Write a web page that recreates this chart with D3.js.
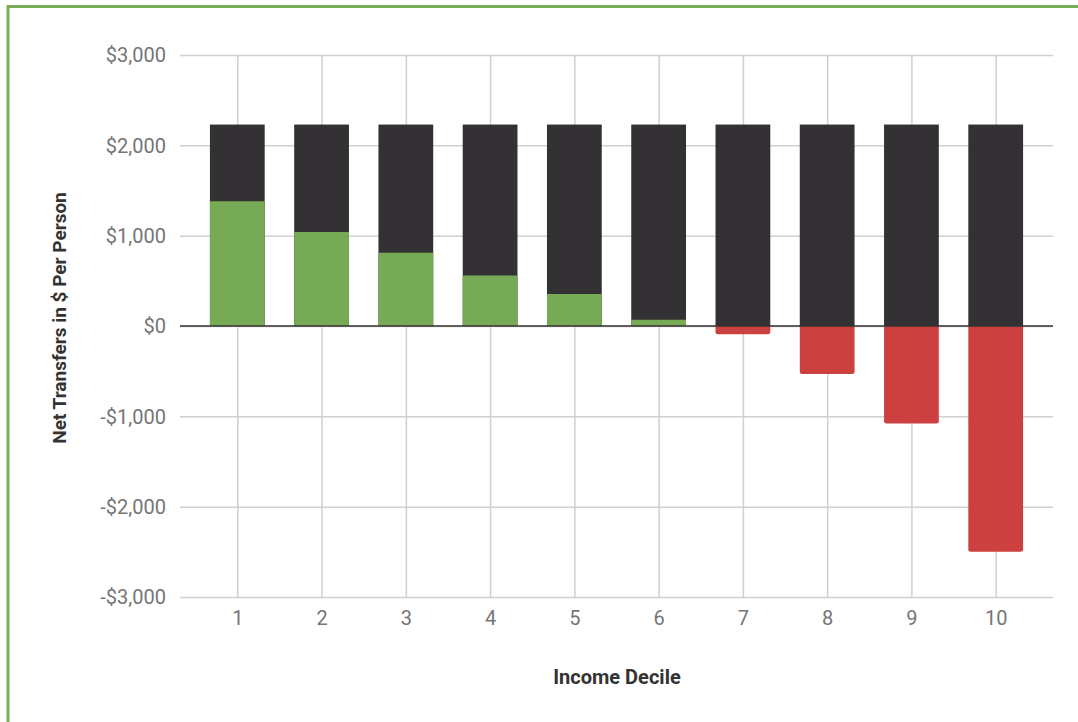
<!DOCTYPE html>
<html>
<head>
<meta charset="utf-8">
<script src="https://cdn.jsdelivr.net/npm/d3@7"></script>
<style>
  html, body { margin: 0; padding: 0; background: #fff; }
  svg { display: block; }
  text { font-family: Roboto, "Noto Sans", sans-serif; }
</style>
</head>
<body>
<svg id="chart" width="1078" height="722"></svg>
<script>
// Income deciles and per-person values
const deciles = ["1", "2", "3", "4", "5", "6", "7", "8", "9", "10"];
const grossTransfer = [2230, 2230, 2230, 2230, 2230, 2230, 2230, 2230, 2230, 2230];
const netTransfer = [1380, 1040, 810, 560, 355, 70, -90, -530, -1080, -2500];
const yTicks = [-3000, -2000, -1000, 0, 1000, 2000, 3000];

const colors = { gross: "#333134", gain: "#77aa55", loss: "#cc4040", grid: "#d0d0d0", zero: "#333", tick: "#757575", title: "#333" };

const svg = d3.select("#chart");
const W = 1078, H = 722;
const m = { left: 180, right: 25, top: 55, bottom: 125 };

// outer frame
svg.append("rect")
  .attr("x", 8).attr("y", 6.5)
  .attr("width", W + 20).attr("height", H + 20)
  .attr("fill", "none").attr("stroke", "#7aad5a").attr("stroke-width", 3);

const x = d3.scalePoint().domain(deciles)
  .range([m.left, W - m.right]).padding(0.68);
const y = d3.scaleLinear().domain([-3000, 3000])
  .range([H - m.bottom, m.top]);
const barW = x.step() * 0.65;

const g = svg.append("g");

// horizontal grid + y labels
const yAxis = d3.axisLeft(y).tickValues(yTicks)
  .tickSize(-(W - m.right - m.left))
  .tickFormat(d => (d < 0 ? "-$" : "$") + d3.format(",")(Math.abs(d)));
const ya = g.append("g").attr("transform", `translate(${m.left},0)`).call(yAxis);
ya.select(".domain").remove();
ya.selectAll(".tick line").attr("stroke", colors.grid).attr("stroke-width", 1.5);
ya.selectAll(".tick text").attr("x", -14).attr("fill", colors.tick)
  .attr("font-size", 20).attr("dy", "0.34em");

// vertical grid + x labels
const xAxis = d3.axisBottom(x).tickSize(-(y(-3000) - y(3000)));
const xa = g.append("g").attr("transform", `translate(0,${y(-3000)})`).call(xAxis);
xa.select(".domain").remove();
xa.selectAll(".tick line").attr("stroke", colors.grid).attr("stroke-width", 1.5);
xa.selectAll(".tick text").attr("y", 14).attr("dy", "0.71em").attr("fill", colors.tick)
  .attr("font-size", 20);

// gross transfer bars
g.append("g").selectAll("rect").data(deciles).join("rect")
  .attr("x", d => x(d) - barW / 2)
  .attr("y", (d, i) => y(grossTransfer[i]))
  .attr("width", barW)
  .attr("height", (d, i) => y(0) - y(grossTransfer[i]))
  .attr("fill", colors.gross);

// net transfer bars (green when positive, red when negative)
g.append("g").selectAll("path").data(deciles).join("path")
  .attr("fill", (d, i) => netTransfer[i] >= 0 ? colors.gain : colors.loss)
  .attr("d", (d, i) => {
    const v = netTransfer[i];
    const x0 = x(d) - barW / 2, x1 = x(d) + barW / 2;
    const y0 = y(0), y1 = y(v);
    if (v >= 0) return `M${x0},${y0}V${y1}H${x1}V${y0}Z`;
    const r = Math.min(2.5, (y1 - y0) / 2);
    return `M${x0},${y0}V${y1 - r}Q${x0},${y1} ${x0 + r},${y1}H${x1 - r}Q${x1},${y1} ${x1},${y1 - r}V${y0}Z`;
  });

// zero baseline
g.append("line")
  .attr("x1", m.left).attr("x2", W - m.right)
  .attr("y1", y(0)).attr("y2", y(0))
  .attr("stroke", colors.zero).attr("stroke-width", 1.5);

// axis titles
svg.append("text")
  .attr("x", 617).attr("y", 684)
  .attr("text-anchor", "middle").attr("font-weight", "bold")
  .attr("font-size", 20).attr("fill", colors.title)
  .text("Income Decile");

svg.append("text")
  .attr("transform", `translate(66,${318}) rotate(-90)`)
  .attr("text-anchor", "middle").attr("font-weight", "bold")
  .attr("font-size", 19).attr("fill", colors.title)
  .text("Net Transfers in $ Per Person");
</script>
</body>
</html>
